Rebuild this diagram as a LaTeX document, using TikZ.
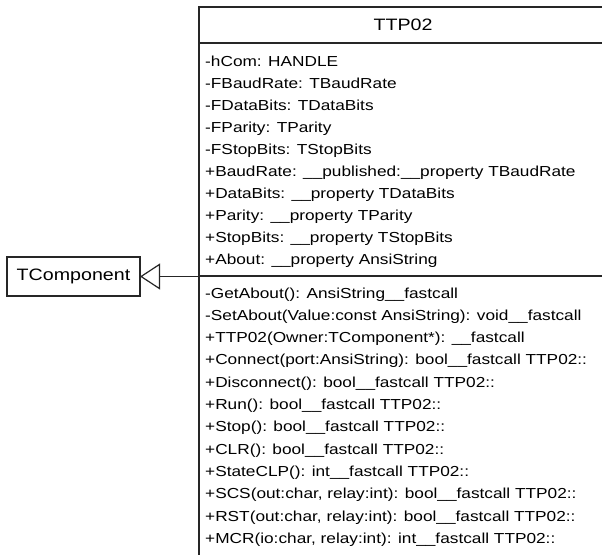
\documentclass[tikz,border=0pt]{standalone}
\usepackage{fontspec}
\setmainfont{Liberation Sans}[FakeStretch=1.19]
\usetikzlibrary{arrows.meta}
\tikzset{
  boxline/.style={draw=black!85, line width=1.4pt},
  classbox/.style={boxline, outer sep=0pt, inner sep=0pt, anchor=north west},
  member/.style={anchor=base west, inner sep=0pt, font=\fontsize{14.5}{17}\selectfont},
  classname/.style={inner sep=0pt, font=\fontsize{16.5}{19}\selectfont},
  simplebox/.style={draw=black!85, line width=1.2pt, outer sep=0pt, minimum width=133pt, minimum height=39pt, inner sep=0pt, font=\fontsize{16.5}{19}\selectfont},
  inherit/.style={draw=black!85, line width=1.2pt, -{Triangle[open, length=20pt, width=26pt, fill=white]}}
}
\begin{document}
\begin{tikzpicture}[x=1pt, y=-1pt]
\useasboundingbox (0,0) rectangle (602,554);
% class TTP02 (extends beyond the visible area)
\node[classbox, minimum width=408pt, minimum height=553pt] (ttp) at (199,7) {};
\node[classname] (title) at (403,25) {TTP02};
\draw[boxline] (ttp.west |- 0,43) coordinate (s1l) -- (ttp.east |- 0,43) coordinate (s1r);
\draw[boxline] (ttp.west |- 0,276) coordinate (s2l) -- (ttp.east |- 0,276) coordinate (s2r);
% attributes
\foreach [count=\i] \t in {
  {-hCom: HANDLE},
  {-FBaudRate: TBaudRate},
  {-FDataBits: TDataBits},
  {-FParity: TParity},
  {-FStopBits: TStopBits},
  {+BaudRate: \_\_published:\_\_property TBaudRate},
  {+DataBits: \_\_property TDataBits},
  {+Parity: \_\_property TParity},
  {+StopBits: \_\_property TStopBits},
  {+About: \_\_property AnsiString}}
  \node[member] (a\i) at (205, {66+22.1*(\i-1)}) {\t};
% operations
\foreach [count=\i] \t in {
  {-GetAbout(): AnsiString\_\_fastcall},
  {-SetAbout(Value:const AnsiString): void\_\_fastcall},
  {+TTP02(Owner:TComponent*): \_\_fastcall},
  {+Connect(port:AnsiString): bool\_\_fastcall TTP02::},
  {+Disconnect(): bool\_\_fastcall TTP02::},
  {+Run(): bool\_\_fastcall TTP02::},
  {+Stop(): bool\_\_fastcall TTP02::},
  {+CLR(): bool\_\_fastcall TTP02::},
  {+StateCLP(): int\_\_fastcall TTP02::},
  {+SCS(out:char, relay:int): bool\_\_fastcall TTP02::},
  {+RST(out:char, relay:int): bool\_\_fastcall TTP02::},
  {+MCR(io:char, relay:int): int\_\_fastcall TTP02::}}
  \node[member] (o\i) at (205, {298+22.3*(\i-1)}) {\t};
% TComponent
\node[simplebox] (tc) at (73.5,276.5) {TComponent};
% generalization
\draw[inherit] (ttp.west |- tc.east) -- (tc.east);
\end{tikzpicture}
\end{document}
